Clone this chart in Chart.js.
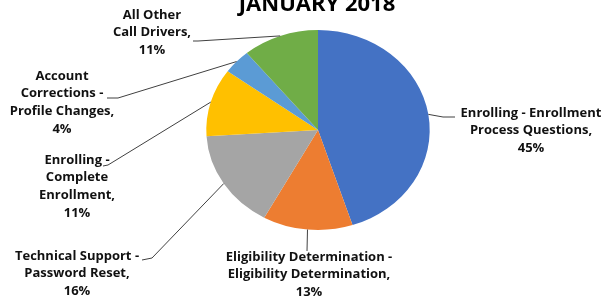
<!DOCTYPE html>
<html>
<head>
<meta charset="utf-8">
<script src="https://cdn.jsdelivr.net/npm/chart.js@4"></script>
<style>
  html, body { margin: 0; padding: 0; background: #fff; }
  #wrap { width: 605px; height: 301px; }
</style>
</head>
<body>
<div id="wrap"><canvas id="chart" width="605" height="301"></canvas></div>
<script>
const titre = "JANUARY 2018";
const categories = [
    ["Enrolling - Enrollment", "Process Questions,"],
    ["Eligibility Determination -", "Eligibility Determination,"],
    ["Technical Support -", "Password Reset,"],
    ["Enrolling -", "Complete", "Enrollment,"],
    ["Account", "Corrections -", "Profile Changes,"],
    ["All Other", "Call Drivers,"]
];
const valeurs = [45, 13, 16, 11, 4, 11];
const couleurs = ["#4472C4", "#ED7D31", "#A5A5A5", "#FFC000", "#5B9BD5", "#70AD47"];

// pie is a bit stretched horizontally in the original
const etirement = 1.117;

// where each label block sits (center x, first line y) and where its leader line ends
const positions = [
    { x: 531, y: 113, fin: [[443, 117], [455, 117]] },
    { x: 309, y: 257, fin: [[307, 251]] },
    { x: 77, y: 256, fin: [[152, 258], [142, 260]] },
    { x: 77, y: 160, fin: [[108, 165], [103, 166]] },
    { x: 62, y: 76, fin: [[118, 98], [107, 98]] },
    { x: 152, y: 15, fin: [[198, 41], [193, 41]] }
];

const etiquettes = {
    id: "etiquettes",
    beforeDatasetsDraw(chart) {
        const ctx = chart.ctx;
        const arc = chart.getDatasetMeta(0).data[0];
        ctx.save();
        ctx.translate(arc.x, arc.y);
        ctx.scale(etirement, 1);
        ctx.translate(-arc.x, -arc.y);
    },
    afterDatasetsDraw(chart) {
        const ctx = chart.ctx;
        ctx.restore();
        const arcs = chart.getDatasetMeta(0).data;

        // titre
        ctx.save();
        ctx.fillStyle = "#000";
        ctx.font = "bold 22px 'Open Sans'";
        ctx.textAlign = "center";
        ctx.textBaseline = "alphabetic";
        ctx.fillText(titre, 317, 11);

        // lignes de rappel
        ctx.strokeStyle = "#404040";
        ctx.lineWidth = 1;
        arcs.forEach((a, i) => {
            const milieu = (a.startAngle + a.endAngle) / 2;
            const x0 = a.x + a.outerRadius * etirement * Math.cos(milieu);
            const y0 = a.y + a.outerRadius * Math.sin(milieu);
            ctx.beginPath();
            ctx.moveTo(x0, y0);
            positions[i].fin.forEach(p => ctx.lineTo(p[0], p[1]));
            ctx.stroke();
        });

        // textes
        ctx.font = "bold 13px 'Open Sans'";
        ctx.textBaseline = "middle";
        ctx.fillStyle = "#111";
        categories.forEach((lignes, i) => {
            const pos = positions[i];
            const tout = lignes.concat([valeurs[i] + "%"]);
            tout.forEach((t, k) => ctx.fillText(t, pos.x, pos.y + k * 17.6));
        });
        ctx.restore();
    }
};

new Chart(document.getElementById("chart"), {
    type: "pie",
    data: {
        labels: categories,
        datasets: [{
            data: valeurs,
            backgroundColor: couleurs,
            borderWidth: 0
        }]
    },
    options: {
        responsive: false,
        animation: false,
        layout: {
            padding: { top: 30, bottom: 71, left: 218, right: 187 }
        },
        plugins: {
            legend: { display: false },
            tooltip: { enabled: false }
        }
    },
    plugins: [etiquettes]
});
</script>
</body>
</html>
